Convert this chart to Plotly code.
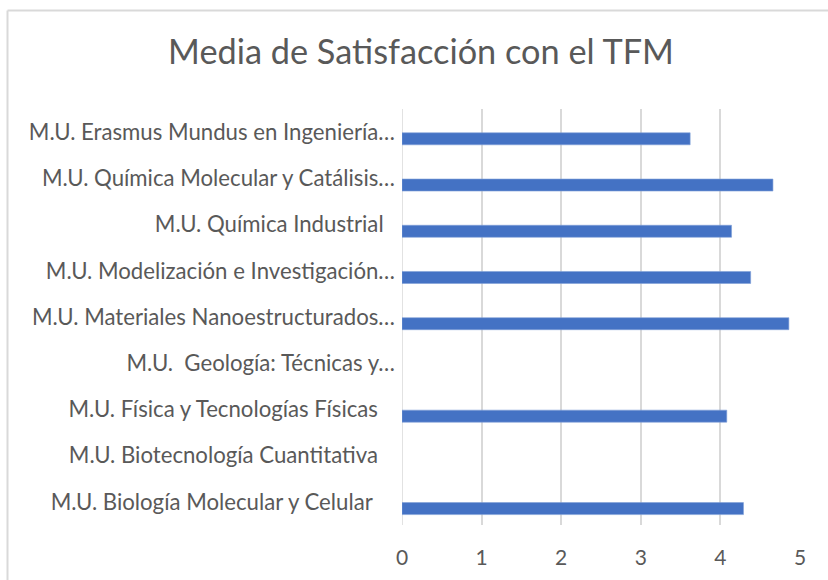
import plotly.graph_objects as go

NB = "\u00a0"
categories = [
    "M.U. Biología Molecular y Celular" + NB * 4,
    "M.U. Biotecnología Cuantitativa" + NB * 3,
    "M.U. Física y Tecnologías Físicas" + NB * 3,
    "M.U." + NB + " Geología: Técnicas y…",
    "M.U. Materiales Nanoestructurados…",
    "M.U. Modelización e Investigación…",
    "M.U. Química Industrial" + NB * 2,
    "M.U. Química Molecular y Catálisis…",
    "M.U. Erasmus Mundus en Ingeniería…",
]
values = [4.29, None, 4.08, None, 4.86, 4.38, 4.14, 4.66, 3.62]
x_ticks = [0, 1, 2, 3, 4, 5]

W, H = 828, 580
L, R, T, B = 402, 28, 109, 55
pw, ph = W - L - R, H - T - B

def px_x(p):
    return (p - L) / pw

def px_y(p):
    return (H - B - p) / ph

fig = go.Figure()
fig.add_trace(go.Bar(
    y=categories, x=values, orientation="h",
    marker=dict(color="#4472C4", line=dict(color="#7f9fd6", width=0.6)),
    width=0.26, offset=-0.275,
    hoverinfo="x+y",
))

fig.update_layout(
    width=W, height=H,
    margin=dict(l=L, r=R, t=T, b=B),
    paper_bgcolor="white", plot_bgcolor="white",
    font=dict(family="Lato", color="#595959"),
    showlegend=False,
    title=dict(text="Media de Satisfacción con el TFM", x=421 / W, xref="container",
               xanchor="center", y=1 - 52 / H, yref="container", yanchor="middle",
               font=dict(size=34.3, color="#595959", family="Lato")),
    xaxis=dict(range=[0, 5], tickvals=x_ticks, showgrid=True, gridcolor="#d9d9d9",
               gridwidth=1.5, zeroline=False, showline=False,
               tickfont=dict(size=21, color="#595959"), ticklabelstandoff=18,
               fixedrange=True),
    yaxis=dict(type="category", categoryorder="array", categoryarray=categories,
               range=[-0.5, 8.5], showgrid=False, zeroline=False, showline=False,
               tickfont=dict(size=22.2, color="#595959"), ticklabelstandoff=6,
               fixedrange=True),
    shapes=[
        dict(type="line", xref="paper", yref="paper", x0=px_x(7.5), x1=px_x(7.5),
             y0=px_y(10.5), y1=px_y(600), line=dict(color="#d9d9d9", width=2)),
        dict(type="line", xref="paper", yref="paper", x0=px_x(7.5), x1=px_x(840),
             y0=px_y(10.5), y1=px_y(10.5), line=dict(color="#d9d9d9", width=2)),
        dict(type="line", xref="x", yref="paper", x0=0, x1=0, y0=0, y1=1,
             line=dict(color="#d9d9d9", width=1.5), layer="below"),
    ],
)

fig.write_html("out.html", config={"displayModeBar": False},
               post_script="document.body.style.margin='0';document.body.style.overflow='hidden';")
